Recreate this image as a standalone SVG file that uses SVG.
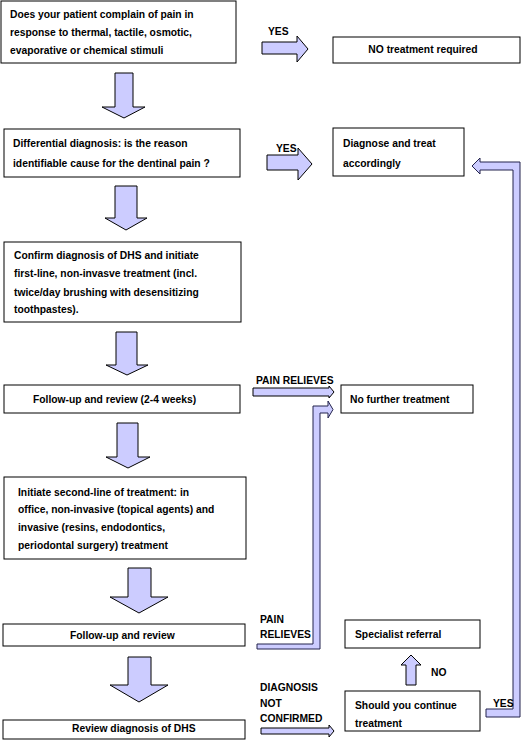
<svg xmlns="http://www.w3.org/2000/svg" width="521" height="740" viewBox="0 0 521 740">
<style>
.box{fill:#fff;stroke:#000;stroke-width:1}
.arr{fill:#ccccff;stroke:#000;stroke-width:1;stroke-linejoin:miter}
.con{fill:#ccccff;stroke:#23234d;stroke-width:1}
text{font-family:"Liberation Sans",Arial,sans-serif;font-weight:bold;font-size:10.3px;fill:#000}
</style>
<rect width="521" height="740" fill="#fff"/>
<g id="connectors">
<polygon class="arr" points="115,73 133,73 133,107 145,107 124,118 102,107 115,107"/>
<polygon class="arr" points="115,186 137,186 137,218 147,218 126,230 105,218 115,218"/>
<polygon class="arr" points="116,332 137,332 137,365 148,365 127,375 106,365 116,365"/>
<polygon class="arr" points="117,423 138,423 138,457 150,457 128,468 106,457 117,457"/>
<polygon class="arr" points="128,568 151,568 151,597 168,597 139,613 110,597 128,597"/>
<polygon class="arr" points="128,657 151,657 151,685 168,685 139,702 110,685 128,685"/>
<polygon class="arr" points="262,42 297,42 297,36 308,49 297,62 297,54 262,54"/>
<polygon class="arr" points="267,155 298,155 298,148 312,164 298,180 298,170 267,170"/>
<polygon class="arr" points="253,388 329,388 329,386 334,392 329,398 329,396 253,396"/>
<polygon class="arr" points="261,728 329,728 329,725 334,731 329,737 329,734 261,734"/>
<polygon class="arr" points="406,685 406,665 401,665 411,655 421,665 416,665 416,685"/>
<polygon class="con" points="257,644 313,644 313,406 328,406 328,401 333,409.5 328,418 328,413 320,413 320,649 257,649"/>
<polygon class="con" points="486,709 513,709 513,170 480,170 480,174 472,166 480,158 480,162 520,162 520,717 486,717"/>
<text x="268" y="35">YES</text>
<text x="276" y="152">YES</text>
<text x="256" y="384">PAIN RELIEVES</text>
<text x="260" y="623">PAIN</text>
<text x="260" y="638">RELIEVES</text>
<text x="260" y="691">DIAGNOSIS</text>
<text x="260" y="707">NOT</text>
<text x="260" y="722">CONFIRMED</text>
<text x="431" y="676">NO</text>
<text x="493" y="707">YES</text>
</g>
<g id="n1">
<rect class="box" x="1" y="1" width="235" height="62"/>
<text x="10" y="18">Does your patient complain of pain in</text>
<text x="10" y="36">response to thermal, tactile, osmotic,</text>
<text x="10" y="54">evaporative or chemical stimuli</text>
</g>
<g id="n2">
<rect class="box" x="333" y="37" width="187" height="26"/>
<text x="423" y="53" text-anchor="middle">NO treatment required</text>
</g>
<g id="n3">
<rect class="box" x="4" y="129" width="236" height="48"/>
<text x="13" y="147">Differential diagnosis: is the reason</text>
<text x="13" y="167">identifiable cause for the dentinal pain ?</text>
</g>
<g id="n4">
<rect class="box" x="333" y="128" width="131" height="48"/>
<text x="343" y="147">Diagnose and treat</text>
<text x="343" y="167">accordingly</text>
</g>
<g id="n5">
<rect class="box" x="4" y="242" width="237" height="80"/>
<text x="14" y="259">Confirm diagnosis of DHS and initiate</text>
<text x="14" y="277">first-line, non-invasve treatment (incl.</text>
<text x="14" y="296">twice/day brushing with desensitizing</text>
<text x="14" y="313">toothpastes).</text>
</g>
<g id="n6">
<rect class="box" x="4" y="385" width="236" height="28"/>
<text x="33" y="403">Follow-up and review (2-4 weeks)</text>
</g>
<g id="n7">
<rect class="box" x="341" y="385" width="132" height="28"/>
<text x="350" y="403">No further treatment</text>
</g>
<g id="n8">
<rect class="box" x="4" y="477" width="242" height="82"/>
<text x="18" y="496">Initiate second-line of treatment: in</text>
<text x="18" y="513">office, non-invasive (topical agents) and</text>
<text x="18" y="531">invasive (resins, endodontics,</text>
<text x="18" y="549">periodontal surgery) treatment</text>
</g>
<g id="n9">
<rect class="box" x="3" y="624" width="242" height="22"/>
<text x="70" y="639">Follow-up and review</text>
</g>
<g id="n10">
<rect class="box" x="345" y="620" width="135" height="28"/>
<text x="355" y="638">Specialist referral</text>
</g>
<g id="n11">
<rect class="box" x="345" y="691" width="135" height="40"/>
<text x="355" y="709">Should you continue</text>
<text x="355" y="727">treatment</text>
</g>
<g id="n12">
<rect class="box" x="3" y="720" width="242" height="19"/>
<text x="72" y="732">Review diagnosis of DHS</text>
</g>
</svg>
